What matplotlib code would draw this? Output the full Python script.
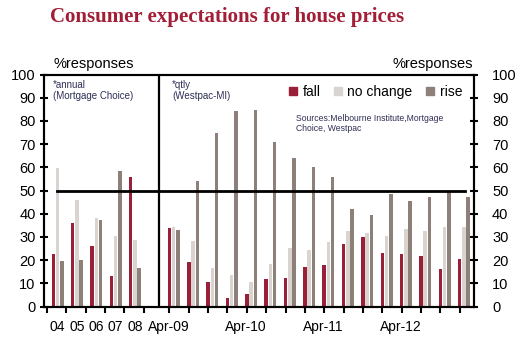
import numpy as np
import matplotlib
matplotlib.use("Agg")
import matplotlib.pyplot as plt
from matplotlib.patches import Patch

plt.rcParams['font.family'] = ['Liberation Sans', 'DejaVu Sans']

# annual survey (Mortgage Choice)
years = ['04', '05', '06', '07', '08']
fall_annual = [22.6, 36.1, 25.9, 13.1, 56.0]
nochange_annual = [59.6, 45.8, 38.1, 30.2, 28.7]
rise_annual = [19.6, 19.9, 37.4, 58.4, 16.7]

# quarterly survey (Westpac-MI), Apr-09 .. Jan-13
quarters = ['Apr-09', 'Jul-09', 'Oct-09', 'Jan-10', 'Apr-10', 'Jul-10', 'Oct-10', 'Jan-11',
            'Apr-11', 'Jul-11', 'Oct-11', 'Jan-12', 'Apr-12', 'Jul-12', 'Oct-12', 'Jan-13']
fall_qtly = [33.7, 19.2, 10.4, 3.5, 5.2, 12.0, 12.4, 16.9, 17.9, 26.8, 30.1, 22.9, 22.8, 21.9, 16.3, 20.3]
nochange_qtly = [34.4, 28.2, 16.6, 13.4, 10.7, 18.2, 25.1, 24.4, 27.7, 32.5, 31.8, 30.5, 33.3, 32.5, 34.4, 34.4]
rise_qtly = [33.1, 54.0, 74.6, 84.1, 84.8, 71.0, 63.9, 60.3, 55.8, 42.0, 39.4, 48.4, 45.6, 47.3, 50.0, 47.0]

c_fall = '#9a1f38'
c_same = '#d9d4d0'
c_rise = '#8d8078'
dark = '#2e2e55'

fig = plt.figure(figsize=(5.19, 3.44), dpi=100)
ax = fig.add_axes([0.0848, 0.109, 0.8285, 0.6744])

x_annual = np.arange(len(years))
x_qtly = np.arange(len(quarters)) + len(years) + 1
x_all = np.r_[x_annual, x_qtly]
fall = fall_annual + fall_qtly
same = nochange_annual + nochange_qtly
rise = rise_annual + rise_qtly

w = 0.18
ax.bar(x_all - 0.22, fall, w, color=c_fall, label='fall')
ax.bar(x_all, same, w, color=c_same, label='no change')
ax.bar(x_all + 0.22, rise, w, color=c_rise, label='rise')

ax.set_xlim(-0.70, 21.52)
ax.set_ylim(0, 100)

# divider between annual and quarterly series, and 50% line
ax.axvline(5.26, color='black', lw=1.6)
ax.plot([-0.05, 21.05], [50, 50], color='black', lw=2)

for s in ax.spines.values():
    s.set_linewidth(1.5)

# x ticks: marks as majors, labels as minors
ax.set_xticks(np.r_[np.arange(6) - 0.55, x_qtly - 0.22])
ax.set_xticklabels([])
ax.set_xticks(np.r_[x_annual, x_qtly[::4] - 0.25], minor=True)
ax.set_xticklabels(years + quarters[::4], minor=True)
ax.tick_params(axis='x', which='major', direction='out', length=4, width=1.5)
ax.tick_params(axis='x', which='minor', length=0, pad=10, labelsize=10)

ax.set_yticks(np.arange(0, 101, 10))
ax.tick_params(axis='y', direction='inout', length=6, width=1.5, labelsize=10.5, pad=3)
ax2 = ax.twinx()
ax2.set_ylim(0, 100)
ax2.set_yticks(np.arange(0, 101, 10))
ax2.tick_params(axis='y', direction='inout', length=6, width=1.5, labelsize=10.5, pad=10)
for s in ax2.spines.values():
    s.set_linewidth(1.5)

fig.text(0.097, 0.95, 'Consumer expectations for house prices', family='Liberation Serif',
         fontweight='bold', fontsize=15, color='#a21e36', va='center')
fig.text(53 / 519, 1 - 71 / 344, '%responses', fontsize=10.5, va='bottom')
fig.text(473 / 519, 1 - 71 / 344, '%responses', fontsize=10.5, va='bottom', ha='right')

ax.text(0.02, 0.975, '*annual\n(Mortgage Choice)', transform=ax.transAxes, fontsize=7,
        color=dark, va='top', linespacing=1.1)
ax.text(0.298, 0.975, '*qtly\n(Westpac-MI)', transform=ax.transAxes, fontsize=7,
        color=dark, va='top', linespacing=1.1)
ax.text(0.585, 0.83, 'Sources:Melbourne Institute,Mortgage\nChoice, Westpac', transform=ax.transAxes,
        fontsize=6.2, color=dark, va='top', linespacing=1.2)

handles = [Patch(color=c_fall), Patch(color=c_same), Patch(color=c_rise)]
ax.legend(handles, ['fall', 'no change', 'rise'], ncol=3, frameon=False, fontsize=10,
          loc='center left', bbox_to_anchor=(0.57, 0.925), handlelength=0.55, handleheight=0.55,
          handletextpad=0.4, columnspacing=1.0, borderpad=0, borderaxespad=0)

fig.savefig('out.png', dpi=100)
